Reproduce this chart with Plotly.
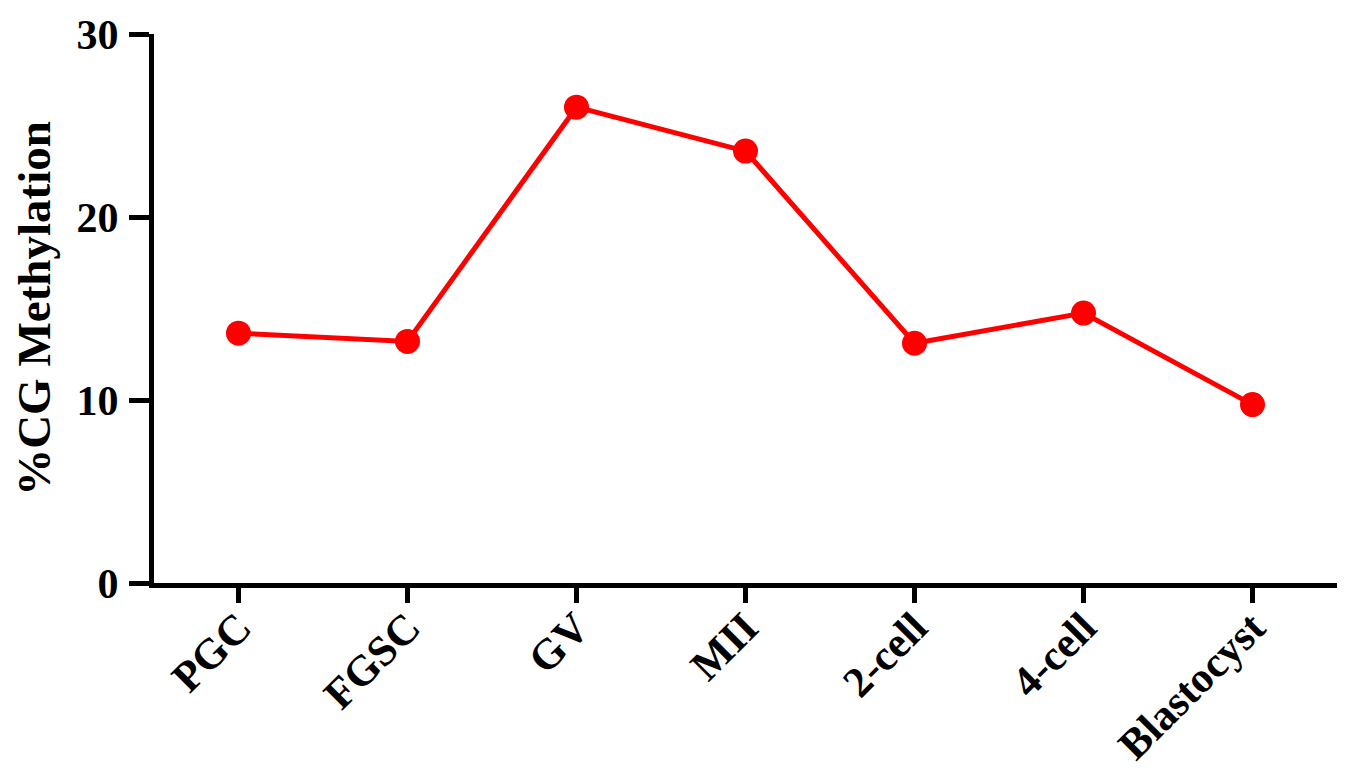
import plotly.graph_objects as go

stages = ["PGC", "FGSC", "GV", "MII", "2-cell", "4-cell", "Blastocyst"]
methylation = [13.65, 13.2, 26.0, 23.6, 13.1, 14.75, 9.75]
y_ticks = [0, 10, 20, 30]

font_family = "Liberation Serif, Times New Roman, serif"

fig = go.Figure()
fig.add_trace(go.Scatter(
    x=list(range(len(stages))), y=methylation,
    mode="lines+markers",
    line=dict(color="#ff0000", width=5),
    marker=dict(color="#ff0000", size=25, symbol="circle"),
    showlegend=False,
))

fig.update_layout(
    width=1357, height=773,
    margin=dict(l=146, r=28, t=26, b=198),
    plot_bgcolor="white", paper_bgcolor="white",
    font=dict(family=font_family, color="black"),
)
fig.update_xaxes(
    range=[-0.5, 6.5],
    tickmode="array", tickvals=list(range(len(stages))), ticktext=[f"<b>{s}</b>" for s in stages],
    tickangle=-45,
    tickfont=dict(size=43, family=font_family, color="black"),
    showline=True, linecolor="black", linewidth=5,
    ticks="outside", ticklen=15, tickwidth=5, tickcolor="black",
    showgrid=False, zeroline=False,
    ticklabelstandoff=-18,
    automargin=False,
)
fig.update_yaxes(
    range=[0, 30],
    tickmode="array", tickvals=y_ticks, ticktext=[f"<b>{v}</b>" for v in y_ticks],
    tickfont=dict(size=42, family=font_family, color="black"),
    showline=True, linecolor="black", linewidth=5,
    ticks="outside", ticklen=20, tickwidth=5, tickcolor="black",
    showgrid=False, zeroline=False,
    ticklabelstandoff=2,
    automargin=False,
    title=dict(text="<b>%CG Methylation</b>", font=dict(size=47, family=font_family, color="black"), standoff=20),
)

fig.write_html("out.html")
